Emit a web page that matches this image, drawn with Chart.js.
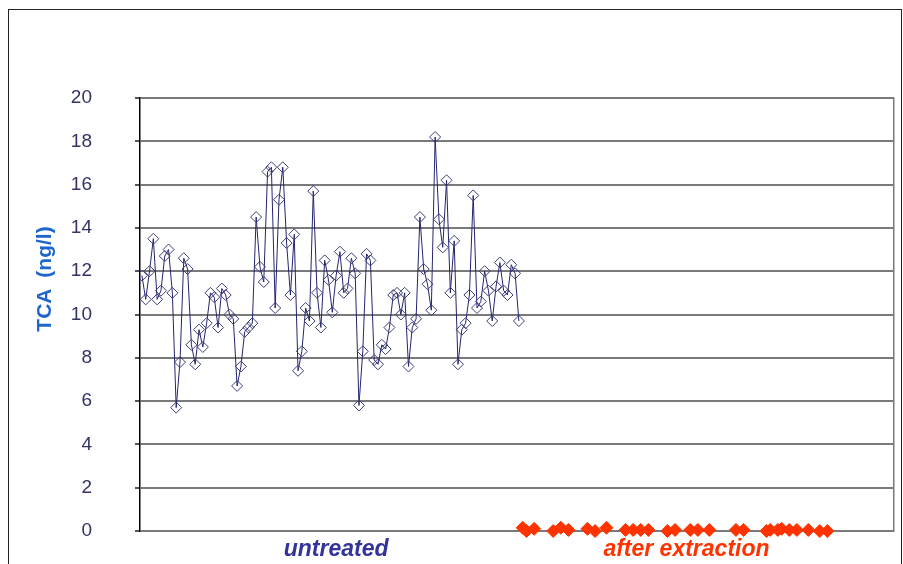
<!DOCTYPE html>
<html>
<head>
<meta charset="utf-8">
<script src="https://cdn.jsdelivr.net/npm/chart.js@4"></script>
<style>
  body { margin: 0; background: #fff; }
  #wrap { position: relative; width: 903px; height: 564px; overflow: hidden; }
  #chart { position: absolute; left: 0; top: 0; }
  #frame { position: absolute; left: 8px; top: 9px; width: 892px; height: 600px; border: 1px solid #222; pointer-events: none; }
  #ytitle {
    position: absolute; left: 44px; top: 279px;
    transform: translate(-50%, -50%) rotate(-90deg);
    white-space: pre; font: bold 21px "Liberation Sans", Arial, sans-serif; color: #1f66cc;
  }
</style>
</head>
<body>
<div id="wrap">
  <canvas id="chart" width="903" height="564"></canvas>
  <div id="frame"></div>
  <div id="ytitle">TCA  (ng/l)</div>
</div>
<script>
// TCA before treatment, one value per sample (ng/l)
const untreated = [
  11.8, 10.7, 12.0, 13.5, 10.7, 11.1, 12.7, 13.0, 11.0, 5.7,
  7.8, 12.6, 12.1, 8.6, 7.7, 9.3, 8.5, 9.6, 11.0, 10.8,
  9.4, 11.2, 10.9, 10.0, 9.8, 6.7, 7.6, 9.2, 9.4, 9.6,
  14.5, 12.2, 11.5, 16.6, 16.8, 10.3, 15.3, 16.8, 13.3, 10.9,
  13.7, 7.4, 8.3, 10.3, 9.7, 15.7, 11.0, 9.4, 12.5, 11.6,
  10.1, 11.8, 12.9, 11.0, 11.2, 12.6, 11.9, 5.8, 8.3, 12.8,
  12.5, 7.9, 7.7, 8.6, 8.4, 9.4, 10.9, 11.0, 10.0, 11.0,
  7.6, 9.4, 9.8, 14.5, 12.1, 11.4, 10.2, 18.2, 14.4, 13.1,
  16.2, 11.0, 13.4, 7.7, 9.3, 9.6, 10.9, 15.5, 10.3, 10.6,
  12.0, 11.1, 9.7, 11.3, 12.4, 11.1, 10.9, 12.3, 11.9, 9.7
];

// after extraction: sample number and value
const extractedIdx = [100, 101, 103, 108, 110, 112, 117, 119, 122, 127, 129, 131, 133, 138, 140,
  144, 146, 149, 156, 158, 164, 165, 167, 168, 170, 172, 175, 178, 180];
const extracted = [0.15, 0, 0.1, 0, 0.15, 0.05, 0.1, 0, 0.15, 0.05, 0.05, 0.05, 0.05, 0, 0.05,
  0.05, 0.05, 0.05, 0.05, 0.05, 0, 0.05, 0.05, 0.1, 0.05, 0.05, 0.05, 0, 0];

const sampleCount = 198;
const groupLabels = ['untreated', 'after extraction'];
const groupCenters = [51, 143];
const groupColors = ['#333399', '#ff3300'];
const yTicks = [0, 2, 4, 6, 8, 10, 12, 14, 16, 18, 20];

const gridColor = '#7a7a7a';

new Chart(document.getElementById('chart'), {
  type: 'line',
  data: {
    datasets: [
      {
        label: 'untreated',
        data: untreated.map((v, i) => ({ x: i, y: v })),
        borderColor: '#24246e',
        borderWidth: 1,
        pointStyle: 'rectRot',
        pointRadius: 5.5,
        pointBorderWidth: 1,
        pointBorderColor: '#3c3c78',
        pointBackgroundColor: 'rgba(255,255,255,0)',
        tension: 0
      },
      {
        label: 'after extraction',
        data: extracted.map((v, i) => ({ x: extractedIdx[i], y: v })),
        showLine: false,
        pointStyle: 'rectRot',
        pointRadius: 6.5,
        pointBorderWidth: 1,
        pointBorderColor: '#ff3300',
        pointBackgroundColor: '#ff3300',
        clip: false
      }
    ]
  },
  options: {
    responsive: false,
    animation: false,
    layout: { padding: { top: 98, right: 9, bottom: 0, left: 0 } },
    plugins: { legend: { display: false }, tooltip: { enabled: false } },
    scales: {
      x: {
        type: 'linear',
        min: -0.5,
        max: sampleCount - 0.5,
        afterBuildTicks: axis => { axis.ticks = groupCenters.map(v => ({ value: v })); },
        afterFit: axis => { axis.height = 33; },
        grid: { display: false, drawTicks: false },
        border: { display: false },
        ticks: {
          callback: (v, i) => groupLabels[i],
          color: ctx => groupColors[ctx.index],
          font: { family: '"Liberation Sans", Arial, sans-serif', size: 23, style: 'italic', weight: 'bold' },
          padding: 5,
          maxRotation: 0
        }
      },
      y: {
        min: 0,
        max: 20,
        afterBuildTicks: axis => { axis.ticks = yTicks.map(v => ({ value: v })); },
        afterFit: axis => {
          axis.width = 140;
          axis.paddingTop = 0;
          axis.paddingBottom = 0;
        },
        grid: { color: gridColor, lineWidth: 2, tickLength: 5, tickColor: '#555' },
        border: { color: '#000', width: 1.5 },
        ticks: {
          color: '#333366',
          font: { family: '"Liberation Sans", Arial, sans-serif', size: 19 },
          padding: 43
        }
      },
      yRight: {
        position: 'right',
        ticks: { display: false },
        grid: { display: false, drawTicks: false },
        border: { display: true, color: gridColor, width: 1.5 }
      }
    }
  }
});
</script>
</body>
</html>
